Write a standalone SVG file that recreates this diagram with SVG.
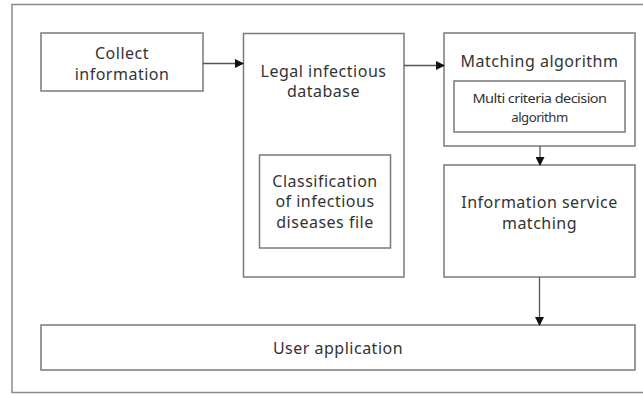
<svg xmlns="http://www.w3.org/2000/svg" width="643" height="394" viewBox="0 0 643 394">
<style>
.box{fill:#fff;stroke:#7a7a7a;stroke-width:1.5}
.frame{fill:none;stroke:#8a8a8a;stroke-width:1.5}
.t{font-family:"Noto Sans","Open Sans",sans-serif;font-size:16px;fill:#333;text-anchor:middle;letter-spacing:0.5px}
.s{font-family:"Noto Sans","Open Sans",sans-serif;font-size:13.2px;fill:#333;text-anchor:middle;letter-spacing:-0.5px}
.c{stroke:#555;stroke-width:1.3;fill:none}
</style>
<defs>
<marker id="ah" markerWidth="9" markerHeight="9" refX="8" refY="4.5" orient="auto" markerUnits="userSpaceOnUse">
<path d="M0,0 L9,4.5 L0,9 Z" fill="#111"/>
</marker>
</defs>
<rect class="frame" x="12" y="4.5" width="640" height="388"/>
<g id="collect">
<rect class="box" x="41" y="33" width="162" height="58"/>
<text class="t" x="122" y="59">Collect</text>
<text class="t" x="122" y="79.5">information</text>
</g>
<g id="legal">
<rect class="box" x="243.5" y="33.5" width="160.5" height="243.5"/>
<text class="t" x="323.5" y="76.5">Legal infectious</text>
<text class="t" x="323.5" y="97">database</text>
</g>
<g id="classification">
<rect class="box" x="259.5" y="155" width="131" height="93"/>
<text class="t" x="325" y="186.5">Classification</text>
<text class="t" x="325" y="207">of infectious</text>
<text class="t" x="325" y="227.5">diseases file</text>
</g>
<g id="matching">
<rect class="box" x="444" y="33" width="191" height="113"/>
<text class="t" x="539.5" y="66.5">Matching algorithm</text>
</g>
<g id="mcda">
<rect class="box" x="454" y="81" width="171" height="51"/>
<text class="s" x="539.5" y="102.5" textLength="134" lengthAdjust="spacingAndGlyphs">Multi criteria decision</text>
<text class="s" x="539.5" y="121.5">algorithm</text>
</g>
<g id="info">
<rect class="box" x="444" y="165" width="191" height="112"/>
<text class="t" x="539.5" y="208">Information service</text>
<text class="t" x="539.5" y="228.5">matching</text>
</g>
<g id="user">
<rect class="box" x="41" y="325" width="594" height="45"/>
<text class="t" x="338" y="354">User application</text>
</g>
<g id="connectors">
<line class="c" x1="203" y1="63.5" x2="243" y2="63.5" marker-end="url(#ah)"/>
<line class="c" x1="404" y1="65.5" x2="444" y2="65.5" marker-end="url(#ah)"/>
<line class="c" x1="540" y1="146" x2="540" y2="165" marker-end="url(#ah)"/>
<line class="c" x1="539.5" y1="277" x2="539.5" y2="325" marker-end="url(#ah)"/>
</g>
</svg>
